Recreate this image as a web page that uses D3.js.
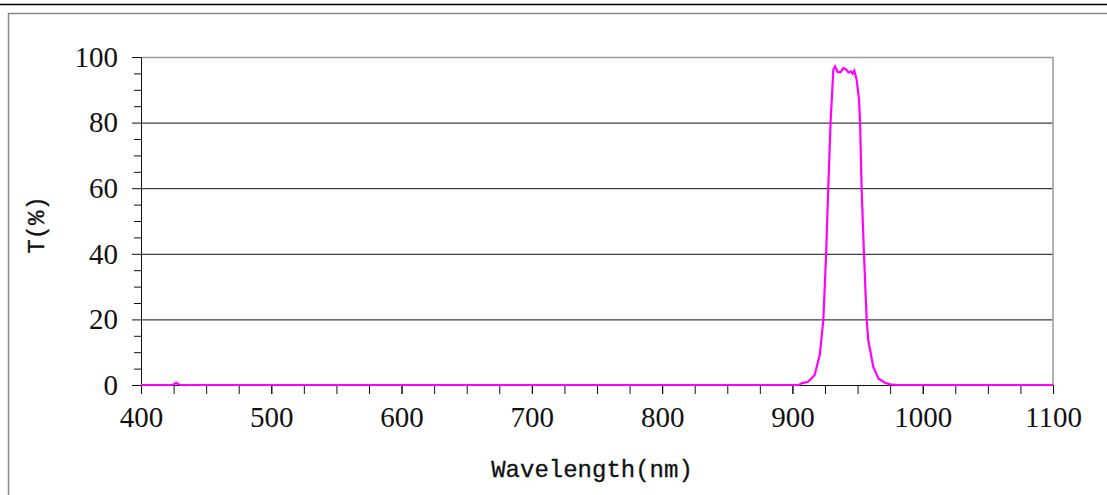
<!DOCTYPE html>
<html><head>
<meta charset="utf-8">
<script src="https://d3js.org/d3.v7.min.js"></script>
<style>
  body { margin: 0; background: #fff; }
  .gridlines line { stroke: #111; }
  .gridlines .domain { stroke: none; }
  .axis text { font-family: "Liberation Serif", serif; font-size: 29px; fill: #111; }
  .axis line, .axis .domain { stroke: #111; }
  .title { font-family: "Liberation Mono", monospace; font-size: 24px; fill: #111; stroke: #111; stroke-width: 0.3px; }
</style>
</head>
<body>
<svg id="chart" width="1107" height="495"></svg>
<script>

// Transmittance curve
const wavelength = [400, 424, 426, 427, 428, 430, 905, 907, 912, 917, 921, 923.7, 925.8, 927.5, 929.3, 931.4, 932.7,
                    934.7, 937, 939, 941.1, 942.9, 945, 946.2, 947.5, 949.3, 951.1, 951.9, 953.1, 954.9, 957,
                    958.2, 962, 966, 971, 975, 980, 1100];
const transmittance = [0, 0, 0.4, 0.7, 0.4, 0, 0, 0.5, 1.0, 3.0, 9.2, 19.8, 39.2, 60, 80.3, 96.1, 97.1,
                       95.4, 95.4, 96.6, 96.3, 95.3, 95.6, 94.9, 95.8, 93.1, 87, 80.3, 60, 40, 19.8,
                       13.7, 5.6, 2.0, 0.7, 0.2, 0, 0];

const xMajor = [400, 500, 600, 700, 800, 900, 1000, 1100];
const yMajor = [0, 20, 40, 60, 80, 100];

const svg = d3.select("svg#chart");
const margins = {top: 57, right: 54, bottom: 110, left: 141};
const chartWidth = 1107 - margins.left - margins.right;
const chartHeight = 385 - margins.top;

// outer frame lines
svg.append("line").attr("x1", 0).attr("x2", 1107).attr("y1", 4.5).attr("y2", 4.5)
   .attr("stroke", "#000").attr("stroke-width", 1.5);
svg.append("rect").attr("x", 8.5).attr("y", 13.5).attr("width", 1200).attr("height", 600)
   .attr("fill", "none").attr("stroke", "#888").attr("stroke-width", 1.5);

const xScale = d3.scaleLinear().domain([400, 1100]).range([0, chartWidth]);
const yScale = d3.scaleLinear().domain([0, 100]).range([chartHeight, 0]);

let plot = svg.append("g")
  .attr("transform", "translate(" + margins.left + "," + margins.top + ")");

// gridlines at 20..80
let gridlines = d3.axisLeft(yScale).tickValues([20, 40, 60, 80]).tickSize(-chartWidth).tickFormat("");
plot.append("g").attr("class", "gridlines").call(gridlines);

// frame top + right in gray
plot.append("line").attr("x1", 0).attr("x2", chartWidth).attr("y1", 0.5).attr("y2", 0.5)
    .attr("stroke", "#999").attr("stroke-width", 1.5);
plot.append("line").attr("x1", chartWidth).attr("x2", chartWidth).attr("y1", 0).attr("y2", chartHeight)
    .attr("stroke", "#999").attr("stroke-width", 1.5);

// y axis: minor ticks every 5, labels every 20
plot.append("g").attr("class", "axis")
  .call(d3.axisLeft(yScale).tickValues(d3.range(0, 101, 5).filter(v => v % 20 != 0)).tickSize(7).tickFormat("").tickSizeOuter(0));
plot.append("g").attr("class", "axis")
  .call(d3.axisLeft(yScale).tickValues(yMajor).tickSize(9).tickPadding(14).tickFormat(d3.format("d")).tickSizeOuter(0));

// x axis: minor ticks every 25, labels every 100
plot.append("g").attr("class", "axis")
  .attr("transform", "translate(0," + chartHeight + ")")
  .call(d3.axisBottom(xScale).tickValues(d3.range(400, 1101, 25)).tickSize(9).tickFormat("").tickSizeOuter(0));
plot.append("g").attr("class", "axis")
  .attr("transform", "translate(0," + chartHeight + ")")
  .call(d3.axisBottom(xScale).tickValues(xMajor).tickSize(9).tickPadding(12).tickFormat(d3.format("d")).tickSizeOuter(0))
  .call(g => g.select(".domain").remove());

// the curve
const line = d3.line().x((d, i) => xScale(wavelength[i])).y(d => yScale(d));
plot.append("path")
  .datum(transmittance)
  .attr("d", line)
  .attr("fill", "none")
  .attr("stroke", "#ff00ff")
  .attr("stroke-width", 2.2);

// axis titles
svg.append("text").attr("class", "title")
  .attr("x", 592).attr("y", 477).attr("text-anchor", "middle")
  .text("Wavelength(nm)");
svg.append("text").attr("class", "title")
  .attr("transform", "translate(44,225) rotate(-90)").attr("text-anchor", "middle")
  .text("T(%)");

</script>
</body>
</html>
